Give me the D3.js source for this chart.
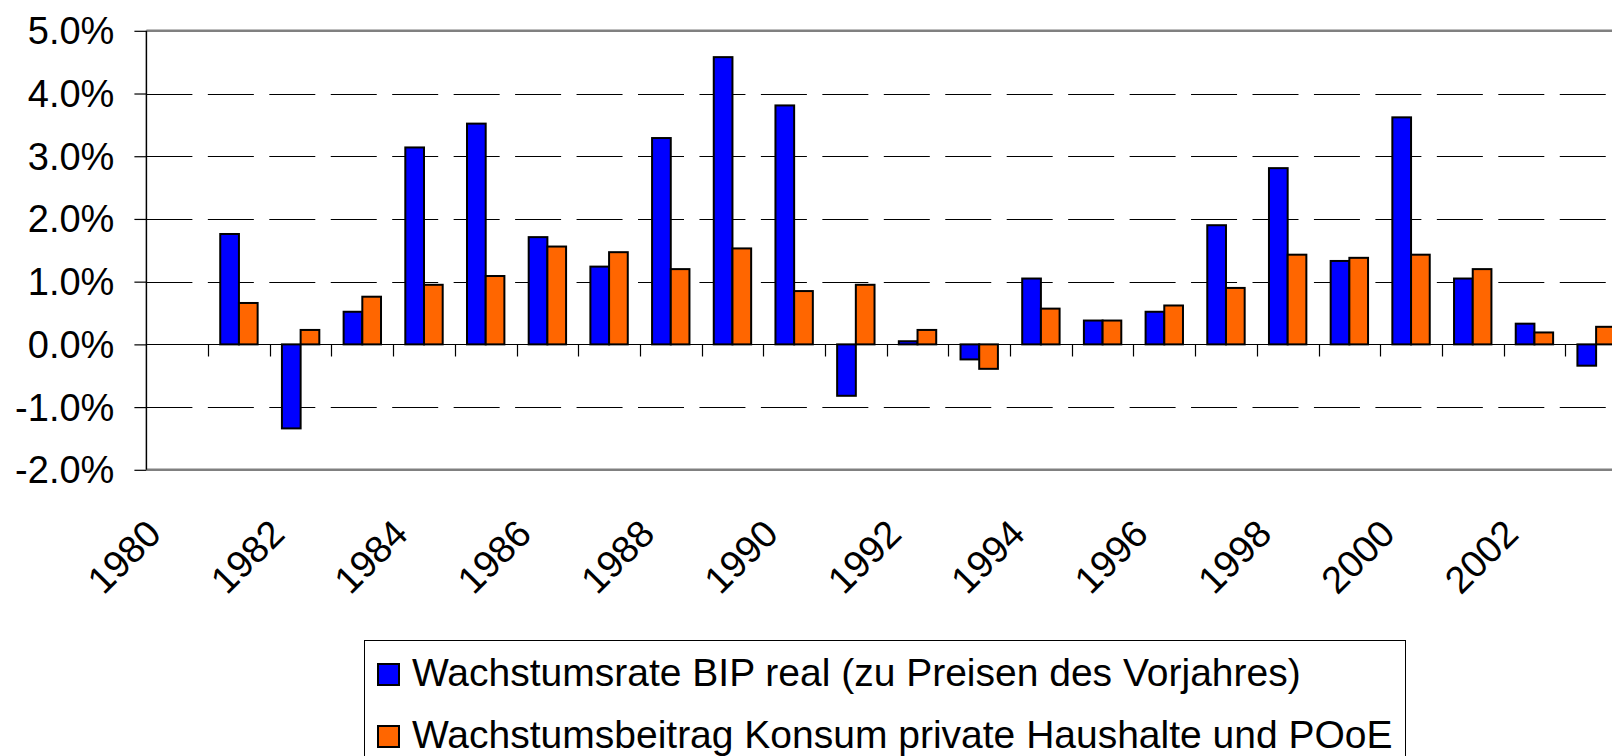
<!DOCTYPE html>
<html>
<head>
<meta charset="utf-8">
<script src="https://cdn.jsdelivr.net/npm/d3@7"></script>
<style>
  html, body { margin: 0; padding: 0; background: #fff; }
  svg { display: block; }
  text { font-family: "Liberation Sans", Arial, sans-serif; fill: #000; }
</style>
</head>
<body>
<svg id="chart" width="1612" height="756"></svg>
<script>
// ---- data ----
const years = ["1980","1981","1982","1983","1984","1985","1986","1987","1988","1989","1990","1991",
               "1992","1993","1994","1995","1996","1997","1998","1999","2000","2001","2002","2003"];
const bipReal = [null, 1.76, -1.34, 0.52, 3.14, 3.52, 1.71, 1.24, 3.29, 4.58, 3.81, -0.82,
                 0.05, -0.24, 1.05, 0.38, 0.52, 1.90, 2.81, 1.33, 3.62, 1.05, 0.33, -0.34];
const konsumBeitrag = [null, 0.66, 0.23, 0.76, 0.95, 1.09, 1.56, 1.47, 1.20, 1.53, 0.85, 0.95,
                       0.23, -0.39, 0.57, 0.38, 0.62, 0.90, 1.43, 1.38, 1.43, 1.20, 0.19, 0.28];
const seriesNames = ["Wachstumsrate BIP real (zu Preisen des Vorjahres)",
                     "Wachstumsbeitrag Konsum private Haushalte und POoE"];
const seriesColors = ["#0000FF", "#FF6600"];
const yTickValues = [-2, -1, 0, 1, 2, 3, 4, 5];
const xLabelYears = ["1980","1982","1984","1986","1988","1990","1992","1994","1996","1998","2000","2002"];

// ---- layout ----
const svg = d3.select("#chart");
const plotLeft = 146.4, plotTop = 30.8, plotBottom = 469.8, step = 61.69;
const plotRight = plotLeft + years.length * step;
const fontSize = 38;

const y = d3.scaleLinear().domain([-2, 5]).range([plotBottom, plotTop]);
const x0 = d3.scaleBand().domain(years).range([plotLeft, plotRight]).padding(0);
const keys = ["bip", "konsum"];
const x1 = d3.scaleBand().domain(keys).range([0, x0.bandwidth()]).paddingInner(0).paddingOuter(0.65);

const rows = years.map((yr, i) => ({ year: yr, bip: bipReal[i], konsum: konsumBeitrag[i] }));

// gridlines (dashed)
const gridVals = yTickValues.filter(v => v !== 0 && v !== 5 && v !== -2);
svg.append("g").selectAll("line").data(gridVals).join("line")
  .attr("x1", plotLeft).attr("x2", plotRight)
  .attr("y1", d => Math.round(y(d)) + 0.5).attr("y2", d => Math.round(y(d)) + 0.5)
  .attr("stroke", "#000").attr("stroke-width", 1)
  .attr("stroke-dasharray", "46,15.45");

// plot border top & bottom (gray)
svg.append("g").selectAll("line").data([5, -2]).join("line")
  .attr("x1", plotLeft).attr("x2", plotRight)
  .attr("y1", d => y(d)).attr("y2", d => y(d))
  .attr("stroke", "#808080").attr("stroke-width", 2.5);

// bars
const groups = svg.append("g").selectAll("g").data(rows).join("g")
  .attr("transform", d => `translate(${x0(d.year)},0)`);
groups.selectAll("rect")
  .data(d => keys.map((k, i) => ({ key: k, value: d[k], color: seriesColors[i] })).filter(e => e.value !== null))
  .join("rect")
  .attr("x", d => x1(d.key))
  .attr("width", x1.bandwidth())
  .attr("y", d => y(Math.max(0, d.value)))
  .attr("height", d => Math.abs(y(d.value) - y(0)))
  .attr("fill", d => d.color)
  .attr("stroke", "#000").attr("stroke-width", 2);

// zero line (category axis) with ticks
const zeroY = Math.round(y(0)) + 0.5;
svg.append("line")
  .attr("x1", plotLeft).attr("x2", plotRight)
  .attr("y1", zeroY).attr("y2", zeroY)
  .attr("stroke", "#000").attr("stroke-width", 1.2);
svg.append("g").selectAll("line").data(years.slice(1)).join("line")
  .attr("x1", d => Math.round(x0(d)) + 0.5).attr("x2", d => Math.round(x0(d)) + 0.5)
  .attr("y1", zeroY).attr("y2", zeroY + 12)
  .attr("stroke", "#000").attr("stroke-width", 1.2);

// y axis
const yAxis = d3.axisLeft(y).tickValues(yTickValues).tickSize(12).tickPadding(20)
  .tickFormat(d => d.toFixed(1) + "%");
const gy = svg.append("g").attr("transform", `translate(${plotLeft},0)`).call(yAxis);
gy.select(".domain").attr("stroke", "#000").attr("stroke-width", 1.5)
  .attr("d", `M0,${plotTop}V${plotBottom}`);
gy.selectAll(".tick line").attr("stroke", "#000").attr("stroke-width", 1.2);
gy.selectAll(".tick text").attr("font-size", fontSize).attr("fill", "#000")
  .attr("font-family", "Liberation Sans, Arial, sans-serif").attr("dy", "0.34em");

// x labels (rotated)
svg.append("g").selectAll("text").data(xLabelYears).join("text")
  .attr("transform", d => `translate(${x0(d) + x0.bandwidth() / 2 - 14},536) rotate(-45)`)
  .attr("text-anchor", "end")
  .attr("font-size", fontSize)
  .text(d => d);

// legend
const legend = svg.append("g");
legend.append("rect")
  .attr("x", 364.5).attr("y", 640.5).attr("width", 1041).attr("height", 140)
  .attr("fill", "#fff").attr("stroke", "#000").attr("stroke-width", 1);
const li = legend.selectAll("g.item").data(seriesNames).join("g").attr("class", "item")
  .attr("transform", (d, i) => `translate(0,${i * 62})`);
li.append("rect")
  .attr("x", 378).attr("y", 664).attr("width", 21).attr("height", 21)
  .attr("fill", (d, i) => seriesColors[i]).attr("stroke", "#000").attr("stroke-width", 2);
li.append("text")
  .attr("x", 412).attr("y", 686)
  .attr("font-size", 39)
  .text(d => d);
</script>
</body>
</html>
